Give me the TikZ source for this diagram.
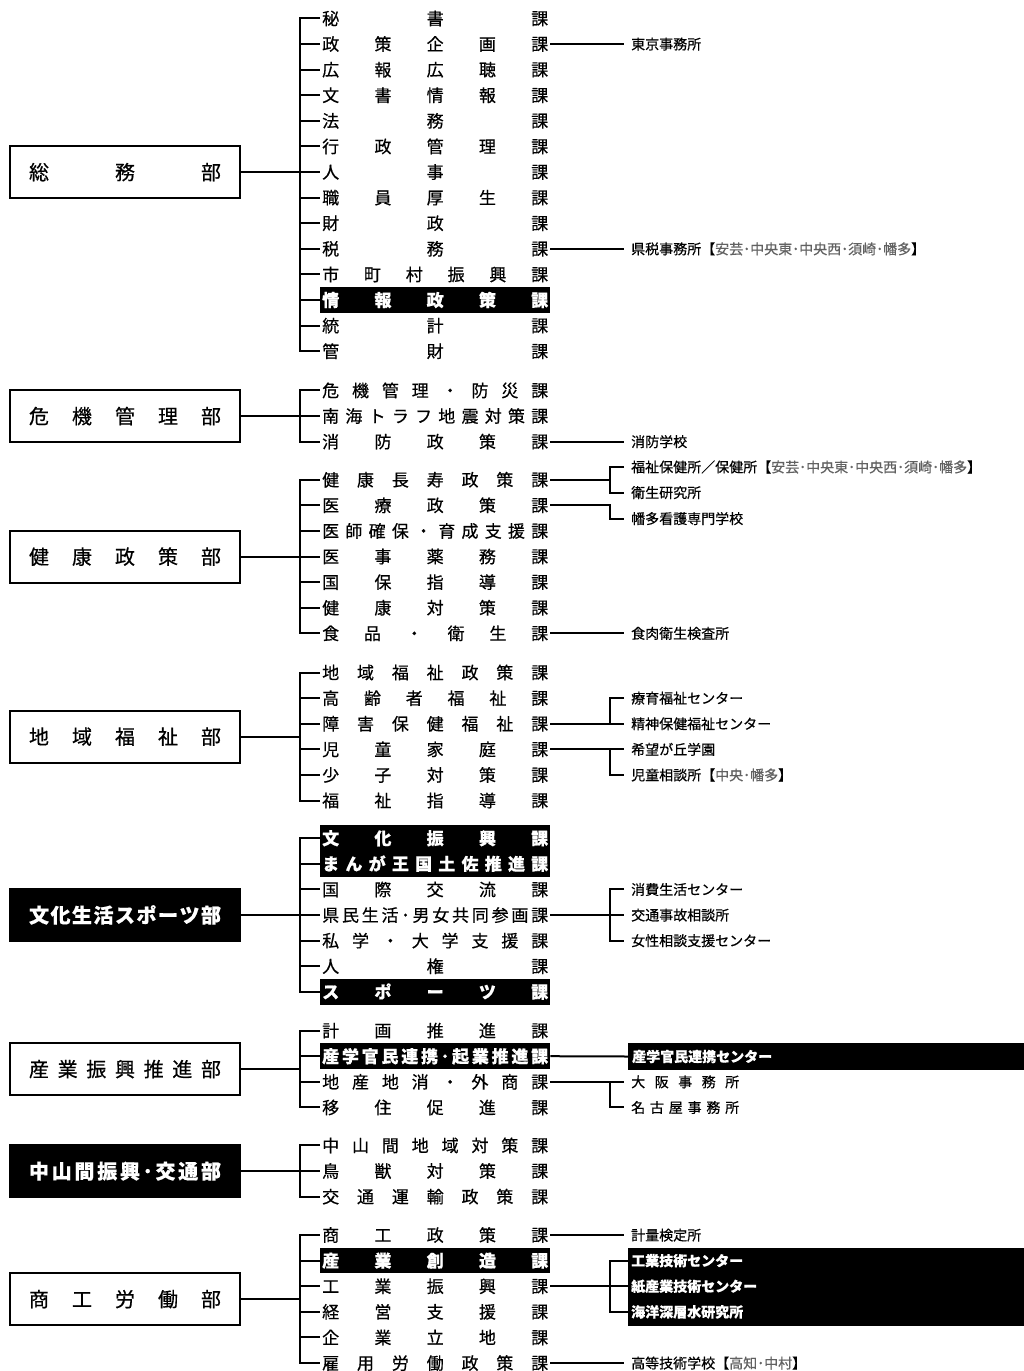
\documentclass[tikz,border=0pt]{standalone}
\usepackage{fontspec}
\setmainfont{Noto Sans CJK JP}[FakeBold=0.5]
\colorlet{subgray}{black!62}
\makeatletter
\def\spreadchars#1{\spr@a#1\relax}
\def\spr@a#1#2{#1\ifx\relax#2\else\hfill\expandafter\spr@a\expandafter#2\fi}
\makeatother
\newcommand\gr[1]{\textcolor{subgray}{#1}}
\tikzset{
 ln/.style={line width=2pt},
 divn/.style={anchor=west, inner xsep=2pt, inner ysep=0pt, minimum height=25.6pt, font=\fontsize{17}{17}\selectfont, text height=13pt, text depth=0pt},
 hl/.style={fill=black, text=white, font=\fontsize{17}{17}\selectfont\bfseries},
 dept/.style={draw, line width=2pt, minimum width=230pt, minimum height=52pt, inner sep=0pt, font=\fontsize{20}{20}\selectfont, text height=15.4pt, text depth=0pt},
 deptb/.style={fill=black, text=white, font=\fontsize{20}{20}\selectfont\bfseries},
 offn/.style={anchor=west, inner xsep=7pt, inner ysep=0pt, font=\fontsize{14}{14}\selectfont, text height=10.8pt, text depth=0pt},
 offb/.style={text=white, font=\fontsize{14}{14}\selectfont\bfseries},
 blackbar/.style={fill=black, minimum width=396pt, inner sep=0pt},
}
\newcommand\dvn[4][]{\node[divn,#1] (#2) at (320,#3) {\makebox[226pt][s]{\spreadchars{#4}}};}
\newcommand\deptn[4][]{\node[dept,#1] (#2) at (125,#3) {\makebox[192pt][s]{\spreadchars{#4}}};}
\newcommand\ofn[4][]{\node[offn,#1] (#2) at (624,#3) {#4};}
\begin{document}
\begin{tikzpicture}[x=1pt,y=-1pt]
\fill[white] (0,0) rectangle (1024,1371);
\useasboundingbox (0,0) rectangle (1024,1371);
\coordinate (bar) at (300,0);
\coordinate (sb) at (610,0);

% ---------- 総務部
\deptn{soumu}{172}{総務部}
\dvn{s1}{18.4}{秘書課}
\dvn{s2}{44}{政策企画課}
\dvn{s3}{69.6}{広報広聴課}
\dvn{s4}{95.2}{文書情報課}
\dvn{s5}{120.8}{法務課}
\dvn{s6}{146.4}{行政管理課}
\dvn{s7}{172}{人事課}
\dvn{s8}{197.6}{職員厚生課}
\dvn{s9}{223.2}{財政課}
\dvn{s10}{248.8}{税務課}
\dvn{s11}{274.4}{市町村振興課}
\dvn[hl]{s12}{300}{情報政策課}
\dvn{s13}{325.6}{統計課}
\dvn{s14}{351.2}{管財課}
\ofn{so1}{44}{東京事務所}
\ofn{so2}{248.8}{県税事務所【\gr{安芸･中央東･中央西･須崎･幡多}】}
\draw[ln] (soumu.east) -- (soumu.east -| bar);
\draw[ln] (s1.west) -| (s14.west -| bar) -- (s14.west);
\foreach \i in {2,...,13} \draw[ln] (s\i.west -| bar) -- (s\i.west);
\draw[ln] (s2.east) -- (so1.west);
\draw[ln] (s10.east) -- (so2.west);

% ---------- 危機管理部
\deptn{kiki}{416}{危機管理部}
\dvn{k1}{390.4}{危機管理・防災課}
\dvn{k2}{416}{南海トラフ地震対策課}
\dvn{k3}{441.6}{消防政策課}
\ofn{ko1}{441.6}{消防学校}
\draw[ln] (kiki.east) -- (kiki.east -| bar);
\draw[ln] (k1.west) -| (k3.west -| bar) -- (k3.west);
\draw[ln] (k2.west -| bar) -- (k2.west);
\draw[ln] (k3.east) -- (ko1.west);

% ---------- 健康政策部
\deptn{kenkou}{556.5}{健康政策部}
\dvn{h1}{479.7}{健康長寿政策課}
\dvn{h2}{505.3}{医療政策課}
\dvn{h3}{530.9}{医師確保・育成支援課}
\dvn{h4}{556.5}{医事薬務課}
\dvn{h5}{582.1}{国保指導課}
\dvn{h6}{607.7}{健康対策課}
\dvn{h7}{633.3}{食品・衛生課}
\ofn{ho1}{466.9}{福祉保健所／保健所【\gr{安芸･中央東･中央西･須崎･幡多}】}
\ofn{ho2}{492.5}{衛生研究所}
\ofn{ho3}{518.5}{幡多看護専門学校}
\ofn{ho4}{633.3}{食肉衛生検査所}
\draw[ln] (kenkou.east) -- (kenkou.east -| bar);
\draw[ln] (h1.west) -| (h7.west -| bar) -- (h7.west);
\foreach \i in {2,...,6} \draw[ln] (h\i.west -| bar) -- (h\i.west);
\draw[ln] (h1.east) -- (h1.east -| sb);
\draw[ln] (ho1.west) -| (ho2.west -| sb) -- (ho2.west);
\draw[ln] (h2.east) -| (ho3.west -| sb) -- (ho3.west);
\draw[ln] (h7.east) -- (ho4.west);

% ---------- 地域福祉部
\deptn{chiiki}{736.5}{地域福祉部}
\dvn{c1}{672.5}{地域福祉政策課}
\dvn{c2}{698.1}{高齢者福祉課}
\dvn{c3}{723.7}{障害保健福祉課}
\dvn{c4}{749.3}{児童家庭課}
\dvn{c5}{774.9}{少子対策課}
\dvn{c6}{800.5}{福祉指導課}
\ofn{co1}{698.1}{療育福祉センター}
\ofn{co2}{723.7}{精神保健福祉センター}
\ofn{co3}{749.3}{希望が丘学園}
\ofn{co4}{774.9}{児童相談所【\gr{中央･幡多}】}
\draw[ln] (chiiki.east) -- (chiiki.east -| bar);
\draw[ln] (c1.west) -| (c6.west -| bar) -- (c6.west);
\foreach \i in {2,...,5} \draw[ln] (c\i.west -| bar) -- (c\i.west);
\draw[ln] (c3.east) -- (co2.west);
\draw[ln] (co1.west) -| (co2.west -| sb);
\draw[ln] (c4.east) -- (co3.west);
\draw[ln] (co3.west -| sb) |- (co4.west);

% ---------- 文化生活スポーツ部
\deptn[deptb]{bunka}{915}{文化生活スポーツ部}
\dvn[hl]{b1}{838.2}{文化振興課}
\dvn[hl]{b2}{863.8}{まんが王国土佐推進課}
\dvn{b3}{889.4}{国際交流課}
\dvn{b4}{915}{県民生活･男女共同参画課}
\dvn{b5}{940.6}{私学・大学支援課}
\dvn{b6}{966.2}{人権課}
\dvn[hl]{b7}{991.8}{スポーツ課}
\ofn{bo1}{889.4}{消費生活センター}
\ofn{bo2}{915}{交通事故相談所}
\ofn{bo3}{940.6}{女性相談支援センター}
\draw[ln] (bunka.east) -- (bunka.east -| bar);
\draw[ln] (b1.west) -| (b7.west -| bar) -- (b7.west);
\foreach \i in {2,...,6} \draw[ln] (b\i.west -| bar) -- (b\i.west);
\draw[ln] (b4.east) -- (bo2.west);
\draw[ln] (bo1.west) -| (bo3.west -| sb) -- (bo3.west);

% ---------- 産業振興推進部
\deptn{sangyo}{1069}{産業振興推進部}
\dvn{p1}{1030.6}{計画推進課}
\dvn[hl]{p2}{1056.2}{産学官民連携･起業推進課}
\dvn{p3}{1081.8}{地産地消・外商課}
\dvn{p4}{1107.4}{移住促進課}
\node[blackbar, anchor=west, minimum height=27pt, text=white, font=\fontsize{14}{14}\selectfont\bfseries, text width=388pt, inner xsep=4pt, align=left] (pbar) at (628,1056.5) {産学官民連携センター};
\ofn{po2}{1081.8}{\makebox[108pt][s]{\spreadchars{大阪事務所}}}
\ofn{po3}{1107.4}{\makebox[108pt][s]{\spreadchars{名古屋事務所}}}
\draw[ln] (sangyo.east) -- (sangyo.east -| bar);
\draw[ln] (p1.west) -| (p4.west -| bar) -- (p4.west);
\foreach \i in {2,3} \draw[ln] (p\i.west -| bar) -- (p\i.west);
\draw[ln] (p2.east) -- (pbar.west);
\draw[ln] (p3.east) -- (po2.west);
\draw[ln] (po2.west -| sb) |- (po3.west);

% ---------- 中山間振興・交通部
\deptn[deptb]{chusan}{1171}{中山間振興･交通部}
\dvn{m1}{1145.4}{中山間地域対策課}
\dvn{m2}{1171}{鳥獣対策課}
\dvn{m3}{1196.6}{交通運輸政策課}
\draw[ln] (chusan.east) -- (chusan.east -| bar);
\draw[ln] (m1.west) -| (m3.west -| bar) -- (m3.west);
\draw[ln] (m2.west -| bar) -- (m2.west);

% ---------- 商工労働部
\deptn{shoko}{1299}{商工労働部}
\dvn{t1}{1235}{商工政策課}
\dvn[hl]{t2}{1260.6}{産業創造課}
\dvn{t3}{1286.2}{工業振興課}
\dvn{t4}{1311.8}{経営支援課}
\dvn{t5}{1337.4}{企業立地課}
\dvn{t6}{1363}{雇用労働政策課}
\ofn{to1}{1235}{計量検定所}
\node[blackbar, anchor=north west, minimum height=78pt] (kbar) at (628,1248) {};
\ofn[offb]{to2}{1260.6}{工業技術センター}
\ofn[offb]{to3}{1286.2}{紙産業技術センター}
\ofn[offb]{to4}{1311.8}{海洋深層水研究所}
\ofn{to5}{1363}{高等技術学校【\gr{高知･中村}】}
\draw[ln] (shoko.east) -- (shoko.east -| bar);
\draw[ln] (t1.west) -| (t6.west -| bar) -- (t6.west);
\foreach \i in {2,...,5} \draw[ln] (t\i.west -| bar) -- (t\i.west);
\draw[ln] (t1.east) -- (to1.west);
\draw[ln] (t3.east) -- (to3.west -| kbar.west);
\draw[ln] (to2.west -| kbar.west) -| (to4.west -| sb) -- (to4.west -| kbar.west);
\draw[ln] (t6.east) -- (to5.west);
\end{tikzpicture}
\end{document}
